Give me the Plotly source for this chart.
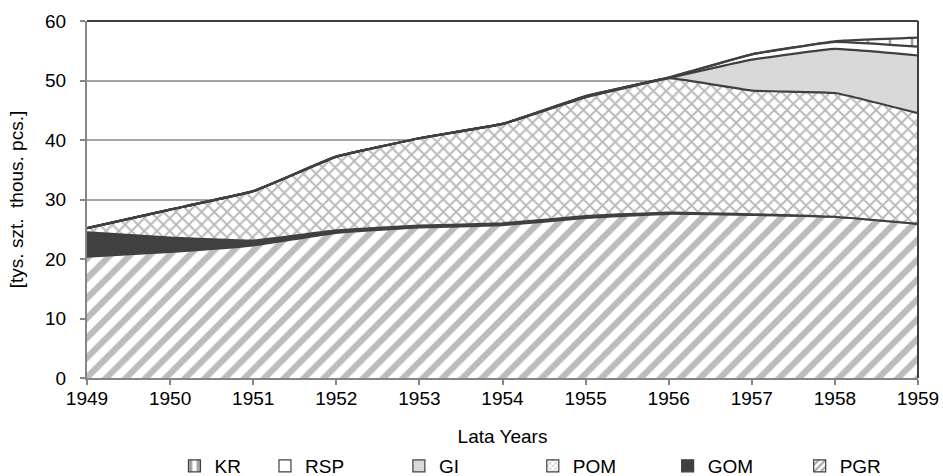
import plotly.graph_objects as go

years = [1949, 1950, 1951, 1952, 1953, 1954, 1955, 1956, 1957, 1958, 1959]
PGR = [20.4, 21.2, 22.3, 24.4, 25.3, 25.7, 26.9, 27.6, 27.4, 27.1, 25.9]
GOM = [4.1, 2.4, 0.8, 0.4, 0.3, 0.3, 0.3, 0.2, 0.1, 0.0, 0.0]
POM = [0.7, 4.7, 8.3, 12.4, 14.7, 16.7, 20.0, 22.6, 20.8, 20.8, 18.6]
GI = [0.0, 0.0, 0.0, 0.0, 0.0, 0.0, 0.0, 0.0, 5.2, 7.4, 9.7]
RSP = [0.0, 0.0, 0.0, 0.0, 0.0, 0.0, 0.2, 0.1, 0.9, 1.2, 1.5]
KR = [0.0, 0.0, 0.0, 0.0, 0.0, 0.0, 0.0, 0.0, 0.0, 0.1, 1.5]
y_ticks = [0, 10, 20, 30, 40, 50, 60]

EDGE = "#404040"
FONT = "Liberation Sans, Arial, sans-serif"
FS = 19

# name, values, area fill, legend swatch marker, legend x (container fraction)
series = [
    ("PGR", PGR,
     dict(fillpattern=dict(shape="/", fgcolor="#7a7a7a", bgcolor="white", size=14, solidity=0.45)),
     dict(color="white", pattern=dict(shape="/", fgcolor="#404040", bgcolor="white", size=6, solidity=0.4)),
     0.848),
    ("GOM", GOM, dict(fillcolor="#404040"),
     dict(color="#404040"), 0.708),
    ("POM", POM,
     dict(fillpattern=dict(shape="x", fgcolor="#737373", bgcolor="white", size=9, solidity=0.38)),
     dict(color="white", pattern=dict(shape="x", fgcolor="#737373", bgcolor="white", size=5, solidity=0.3)),
     0.565),
    ("GI", GI, dict(fillcolor="#d9d9d9"),
     dict(color="#d9d9d9"), 0.423),
    ("RSP", RSP, dict(fillcolor="white"),
     dict(color="white"), 0.281),
    ("KR", KR,
     dict(fillpattern=dict(shape="|", fgcolor="#404040", bgcolor="white", size=22, solidity=0.12)),
     dict(color="white", pattern=dict(shape="|", fgcolor="#404040", bgcolor="white", size=12, solidity=0.45)),
     0.185),
]

fig = go.Figure()
legend_layouts = {}
for i, (name, vals, fill, swatch, lx) in enumerate(series):
    fig.add_trace(go.Scatter(
        x=years, y=vals, name=name, mode="lines", stackgroup="one",
        line=dict(color=EDGE, width=2.2, shape="spline", smoothing=0.3),
        showlegend=False, hoverinfo="x+y+name",
        **fill,
    ))
    lname = "legend" if i == 0 else f"legend{i + 1}"
    fig.add_trace(go.Bar(
        x=[None], y=[None], name=name, legend=lname, showlegend=True,
        marker=dict(line=dict(color="#404040", width=1.2), **swatch),
    ))
    legend_layouts[lname] = dict(
        orientation="h", x=lx, xanchor="left", xref="container",
        y=0.021, yanchor="middle", yref="container",
        font=dict(size=FS, family=FONT), itemwidth=30,
        bgcolor="rgba(0,0,0,0)",
    )

fig.update_layout(
    width=943, height=476,
    margin=dict(l=87, r=25, t=21, b=98),
    paper_bgcolor="white", plot_bgcolor="white",
    font=dict(family=FONT, size=FS, color="black"),
    showlegend=True,
    **legend_layouts,
    xaxis=dict(type="linear", range=[1949, 1959], tickmode="array", tickvals=years,
               ticktext=[str(y) for y in years], showgrid=False, zeroline=False,
               showline=True, linecolor="#868686", linewidth=2,
               ticks="outside", ticklen=5, tickcolor="#868686", tickwidth=1.5,
               automargin=False, ticklabelstandoff=-3,
               title=dict(text="Lata Years", font=dict(size=FS), standoff=22),
               tickfont=dict(size=FS)),
    yaxis=dict(range=[0, 60], tickmode="array", tickvals=y_ticks,
               showgrid=True, gridcolor="#a6a6a6", gridwidth=1.5, zeroline=False,
               showline=True, linecolor="#868686", linewidth=2,
               ticks="outside", ticklen=5, tickcolor="#868686", tickwidth=1.5,
               automargin=False, ticklabelstandoff=10,
               title=dict(text="[tys. szt.  thous. pcs.]", font=dict(size=FS), standoff=16),
               tickfont=dict(size=FS)),
    shapes=[
        dict(type="line", xref="paper", yref="paper", x0=0, x1=1, y0=1, y1=1,
             line=dict(color="#404040", width=2), layer="above"),
        dict(type="line", xref="paper", yref="paper", x0=1, x1=1, y0=0, y1=1,
             line=dict(color="#404040", width=2), layer="above"),
    ],
)

fig.write_html("out.html", config={"displayModeBar": False},
               post_script="document.body.style.margin='0';")
